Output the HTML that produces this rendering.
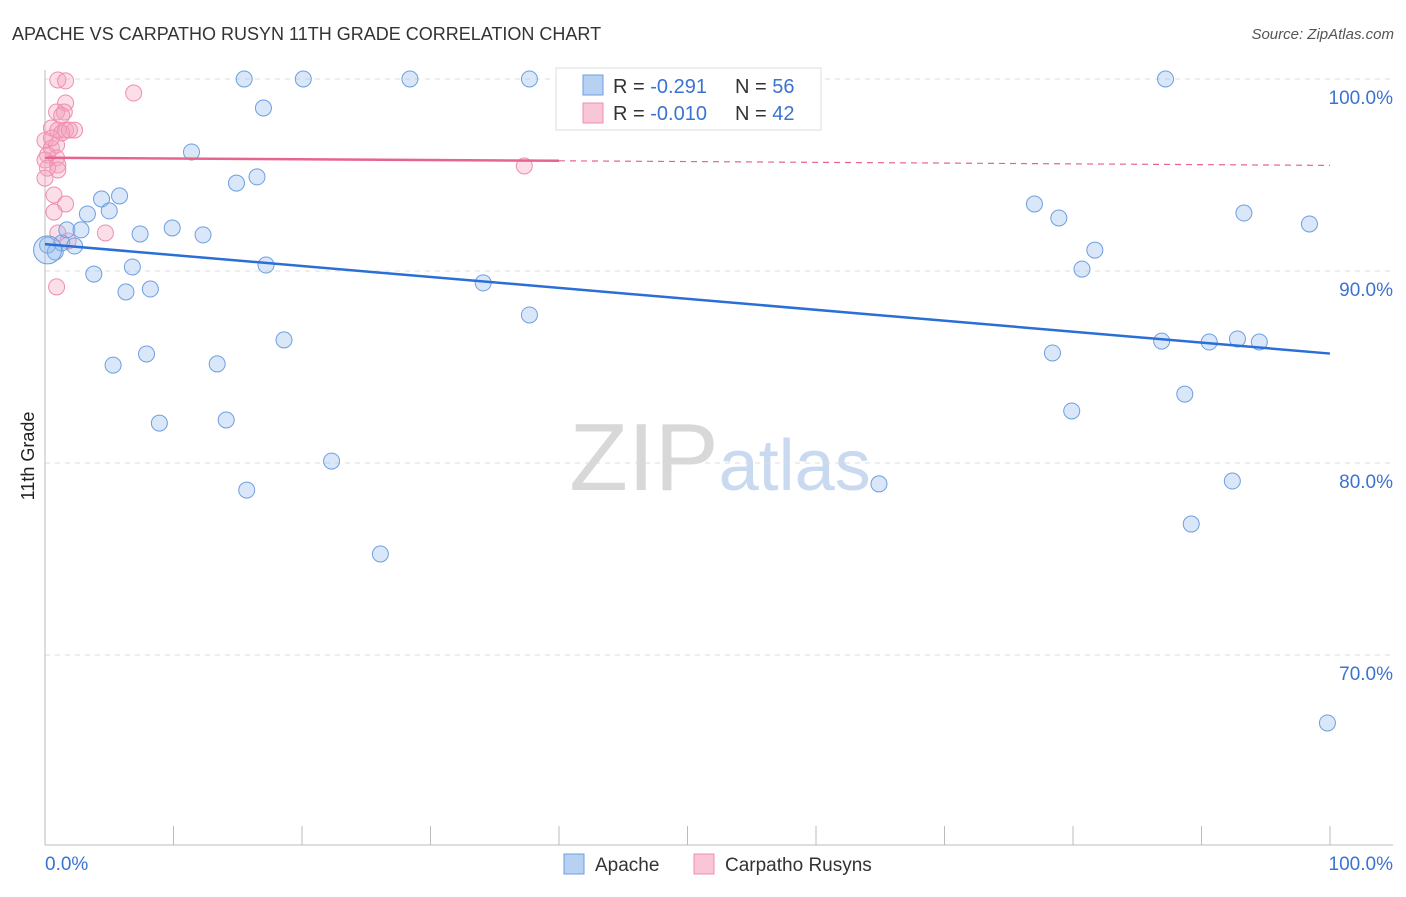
<!DOCTYPE html>
<html><head><meta charset="utf-8"><style>
body{margin:0;background:#fff;font-family:"Liberation Sans",sans-serif;}
svg text{font-family:"Liberation Sans",sans-serif;}
</style></head><body>
<svg id="c" width="1406" height="892" xmlns="http://www.w3.org/2000/svg">
<text x="12" y="40" font-size="18" fill="#333">APACHE VS CARPATHO RUSYN 11TH GRADE CORRELATION CHART</text>
<text x="1394" y="39" font-size="15" fill="#555" text-anchor="end" font-style="italic">Source: ZipAtlas.com</text>
<text x="34" y="456" font-size="18" fill="#222" transform="rotate(-90 34 456)" text-anchor="middle">11th Grade</text>
<text x="720" y="490" font-size="96" fill="#ddd" text-anchor="middle" font-family="Liberation Serif"><tspan fill="#d8d8d8">ZIP</tspan><tspan fill="#c9d9f0" font-family="Liberation Sans" font-size="72">atlas</tspan></text>
<g id="grid"></g><g id="axes"></g><g id="pts"></g><g id="trend"></g>
<g>
<rect x="556" y="68" width="265" height="62" fill="#fff" stroke="#ddd"/>
<rect x="583" y="75" width="20" height="20" fill="#b7d1f3" stroke="#6d9fe0"/>
<rect x="583" y="103" width="20" height="20" fill="#f9c6d6" stroke="#ee8fae"/>
<text x="613" y="93" font-size="20" fill="#333">R = <tspan fill="#3b73d1">-0.291</tspan><tspan x="735">N = </tspan><tspan fill="#3b73d1">56</tspan></text>
<text x="613" y="120" font-size="20" fill="#333">R = <tspan fill="#3b73d1">-0.010</tspan><tspan x="735">N = </tspan><tspan fill="#3b73d1">42</tspan></text>
</g>
<g>
<rect x="564" y="854" width="20" height="20" fill="#b7d1f3" stroke="#6d9fe0"/>
<text x="595" y="871" font-size="19" fill="#333">Apache</text>
<rect x="694" y="854" width="20" height="20" fill="#f9c6d6" stroke="#ee8fae"/>
<text x="725" y="871" font-size="19" fill="#333">Carpatho Rusyns</text>
</g>
</svg>
<script>
const blueX=[0.2,0.8,1.3,1.7,2.3,2.8,3.3,3.8,4.4,5.0,5.8,6.3,6.8,7.4,7.9,8.2,8.9,5.3,9.9,11.4,12.3,13.4,14.1,14.9,15.5,15.7,16.5,17.0,17.2,18.6,20.1,22.3,26.1,28.4,34.1,37.7,37.7,64.9,77.0,78.4,78.9,79.9,80.7,81.7,86.9,87.2,88.7,89.2,90.6,92.4,92.8,93.3,94.5,98.4,99.8];
const blueY=[91.35,90.99,91.46,92.14,91.30,92.14,92.97,89.84,93.75,93.13,93.91,88.91,90.21,91.93,85.68,89.06,82.08,85.10,92.24,96.20,91.88,85.16,82.24,94.58,100,78.59,94.90,98.49,90.31,86.41,100,80.10,75.26,100,89.38,100,87.71,78.91,93.49,85.73,92.76,82.71,90.10,91.09,86.35,100,83.59,76.82,86.30,79.06,86.46,93.02,86.30,92.45,66.46];
const pinkX=[1.0,1.6,1.6,1.5,0.9,1.3,0.5,1.0,1.6,2.3,0,0.5,0.9,0.2,0.9,0,1.0,0.2,1.0,0,0.7,1.6,0.7,1.0,0.9,1.8,4.7,6.9,37.3,1.3,0.5,1.9];
const pinkY=[99.95,99.9,98.75,98.28,98.28,98.1,97.45,97.34,97.34,97.34,96.8,96.4,96.56,96.04,95.89,95.78,95.52,95.36,95.26,94.84,93.96,93.49,93.07,91.98,89.17,91.56,91.98,99.27,95.47,97.19,96.93,97.34];
const blueTrend=[91.4,85.7];
const pinkTrend=[95.9,95.5];
const yTicks=[100,90,80,70];
const yTickLabels=["100.0%","90.0%","80.0%","70.0%"];
const xTicks=[0,10,20,30,40,50,60,70,80,90,100];
const NS="http://www.w3.org/2000/svg";
const sx=v=>45+v*12.85, sy=v=>79+(100-v)*19.2;
function mk(p,t,a){const e=document.createElementNS(NS,t);for(const k in a)e.setAttribute(k,a[k]);document.getElementById(p).appendChild(e);return e;}
yTicks.forEach((t,i)=>{
 const l=mk('grid','line',{x1:45,x2:1393,y1:sy(t),y2:sy(t),stroke:'#ddd','stroke-dasharray':'5,5'});
 
 
 const tx=mk('grid','text',{x:1393,y:sy(t)+25,'font-size':19,fill:'#3b73d1','text-anchor':'end'});
 tx.textContent=yTickLabels[i];
 
 
});
const ax=mk('axes','line',{x1:45,x2:45,y1:70,y2:845,stroke:'#bbb'});


const bx=mk('axes','line',{x1:45,x2:1393,y1:845,y2:845,stroke:'#bbb'});


xTicks.forEach(t=>{
 const l=mk('axes','line',{x1:sx(t),x2:sx(t),y1:826,y2:845,stroke:'#bbb'});
 
 
});
const x0=mk('axes','text',{x:45,y:870,'font-size':19,fill:'#3b73d1'});x0.textContent='0.0%';


const x1=mk('axes','text',{x:1393,y:870,'font-size':19,fill:'#3b73d1','text-anchor':'end'});x1.textContent='100.0%';


pinkX.forEach((v,i)=>{
 const c=mk('pts','circle',{cx:sx(v),cy:sy(pinkY[i]),r:8,fill:'rgba(244,160,190,0.35)',stroke:'#ee8fae','stroke-width':1});
 
 
});
blueX.forEach((v,i)=>{
 const c=mk('pts','circle',{cx:sx(v),cy:sy(blueY[i]),r:8,fill:'rgba(147,187,237,0.35)',stroke:'#6d9fe0','stroke-width':1});
 
 
});
const big=mk('pts','circle',{cx:sx(0.2),cy:sy(91.1),r:14,fill:'rgba(147,187,237,0.35)',stroke:'#6d9fe0'});


const bl=mk('trend','line',{x1:sx(0),y1:sy(blueTrend[0]),x2:sx(100),y2:sy(blueTrend[1]),stroke:'#2a6fd6','stroke-width':2.5});


const pm=pinkTrend[0]+(pinkTrend[1]-pinkTrend[0])*0.4;
const pl=mk('trend','line',{x1:sx(0),y1:sy(pinkTrend[0]),x2:sx(40),y2:sy(pm),stroke:'#e8648f','stroke-width':2.5});


const pd=mk('trend','line',{x1:sx(40),y1:sy(pm),x2:sx(100),y2:sy(pinkTrend[1]),stroke:'#e8648f','stroke-width':1.2,'stroke-dasharray':'6,5'});


</script>
</body></html>
